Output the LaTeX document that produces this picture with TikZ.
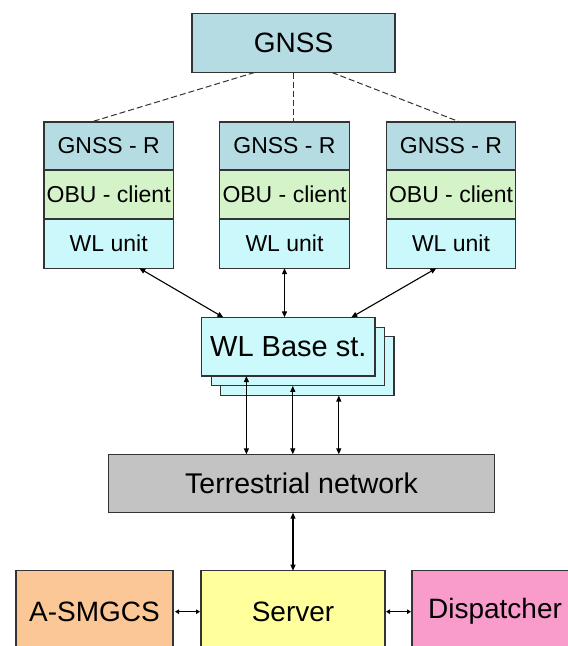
\documentclass[tikz,border=0pt]{standalone}
\usepackage{fontspec}
\setmainfont{Liberation Sans}
\usetikzlibrary{arrows.meta,calc}
\definecolor{gnssc}{HTML}{B6DCE3}
\definecolor{obuc}{HTML}{D5F3C9}
\definecolor{wlc}{HTML}{CBF8FA}
\definecolor{basec}{HTML}{CCFAFC}
\definecolor{terrc}{HTML}{C3C3C3}
\definecolor{asmc}{HTML}{FBC796}
\definecolor{servc}{HTML}{FFFF9C}
\definecolor{dispc}{HTML}{F99CCC}
\definecolor{edgec}{HTML}{333333}
\begin{document}
\begin{tikzpicture}[x=1pt,y=-1pt,
  box/.style={draw=edgec,line width=1.2pt,inner sep=0pt,outer sep=0pt,anchor=center},
  rowbox/.style={box,minimum width=129.5pt,minimum height=49pt,font=\fontsize{23}{23}\selectfont},
  bigtxt/.style={font=\fontsize{28}{28}\selectfont},
  link/.style={line width=1.1pt,{Triangle[length=6pt,width=5pt]}-{Triangle[length=6pt,width=5pt]}},
  smalllink/.style={line width=1.1pt,{Triangle[length=4pt,width=4.5pt]}-{Triangle[length=4pt,width=4.5pt]}},
  dashlink/.style={draw=edgec,line width=1pt,dash pattern=on 6pt off 3pt}]
\clip (0,0) rectangle (568,646);
\fill[white] (0,0) rectangle (568,646);
% GNSS
\node[box,fill=gnssc,minimum width=203pt,minimum height=59pt,bigtxt] (gnss) at (293.5,43) {GNSS};
% units
\foreach \i/\cx in {1/108.7,2/284.5,3/451} {
  \node[rowbox,fill=gnssc,minimum height=48pt] (g\i) at (\cx,146) {GNSS - R};
  \node[rowbox,fill=obuc] (o\i) at (\cx,194.5) {OBU - client};
  \node[rowbox,fill=wlc] (w\i) at (\cx,243.7) {WL unit};
}
% dashed links
\draw[dashlink] ([xshift=-39pt]gnss.south) -- ([xshift=-17.7pt]g1.north);
\draw[dashlink] (gnss.south) -- (gnss.south |- g2.north);
\draw[dashlink] ([xshift=38.5pt]gnss.south) -- ([xshift=9pt]g3.north);
% base station stack
\node[box,fill=basec,minimum width=173.3pt,minimum height=58.7pt] (base3) at (307.3,366.2) {};
\node[box,fill=basec,minimum width=173.3pt,minimum height=58.7pt] (base2) at (297.8,356.5) {};
\node[box,fill=basec,minimum width=173.3pt,minimum height=58.7pt,font=\fontsize{29}{29}\selectfont] (base) at (288.3,346.7) {WL Base st.};
% unit to base links
\draw[link] ([xshift=30.6pt]w1.south) -- ([xshift=-65pt]base.north);
\draw[link] (w2.south) -- (w2.south |- base.north);
\draw[link] ([xshift=-14.6pt]w3.south) -- ([xshift=63pt]base.north);
% terrestrial
\node[box,fill=terrc,minimum width=386pt,minimum height=58.4pt,font=\fontsize{28.5}{28.5}\selectfont] (terr) at (301.6,483.5) {Terrestrial network};
\draw[link] ([xshift=-41.9pt]base.south) -- ([xshift=-41.9pt]base.south |- terr.north);
\draw[link] ([xshift=-5pt]base2.south) -- ([xshift=-5pt]base2.south |- terr.north);
\draw[link] ([xshift=31.5pt]base3.south) -- ([xshift=31.5pt]base3.south |- terr.north);
% bottom row
\node[box,fill=asmc,minimum width=157pt,minimum height=82pt] (asm) at (94.5,611.7) {};
\node[bigtxt] (asmt) at (asm.center) {A-SMGCS};
\node[box,fill=servc,minimum width=184pt,minimum height=82pt] (server) at (293,611.7) {};
\node[bigtxt] (servt) at (server.center) {Server};
\node[box,fill=dispc,minimum width=166pt,minimum height=82pt] (disp) at (495,611.7) {};
\node[bigtxt] (dispt) at (disp.center) {Dispatcher};
\draw[link] (server.north |- terr.south) -- (server.north);
\draw[smalllink,shorten <=2pt,shorten >=1pt] (asm.east) -- (server.west);
\draw[smalllink,shorten <=1pt,shorten >=1pt] (server.east) -- (disp.west);
\end{tikzpicture}
\end{document}
